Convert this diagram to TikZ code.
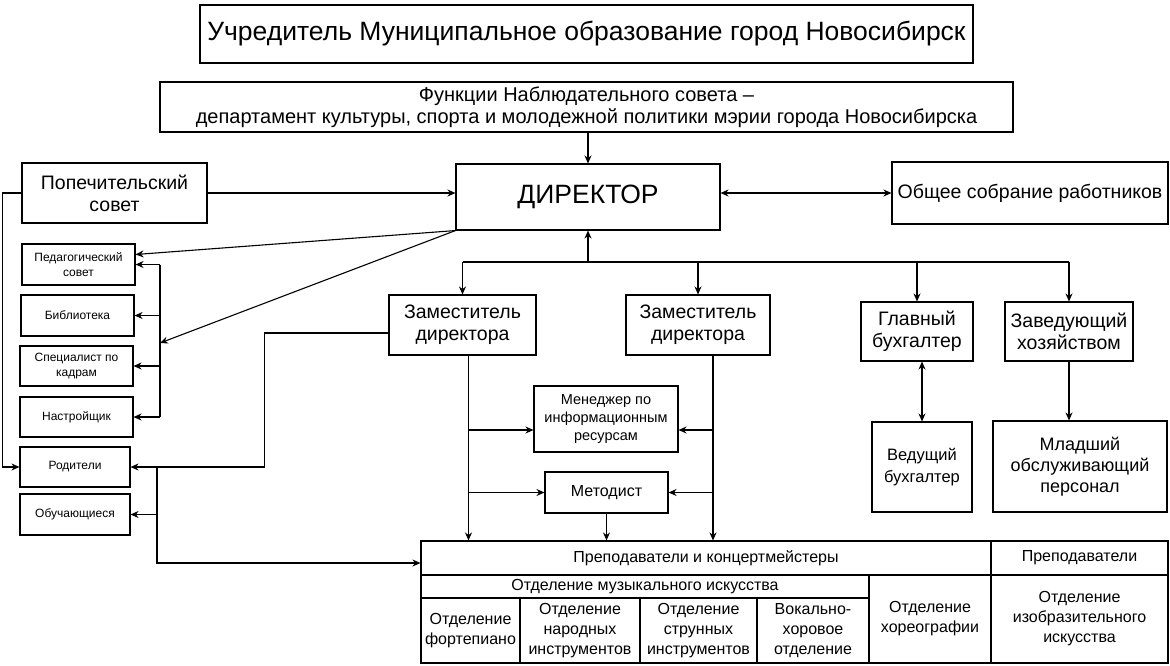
\documentclass[tikz,border=0pt]{standalone}
\usepackage{fontspec}
\setmainfont{Liberation Sans}
\usetikzlibrary{arrows.meta, positioning}

\begin{document}
\begin{tikzpicture}[x=1pt, y=-1pt,
    box/.style = {draw, line width=1.1pt, inner sep=1pt, align=center},
    cell/.style = {draw, line width=1.1pt, inner sep=0.5pt, align=center, font=\fontsize{16}{20}\selectfont},
    arr/.style = {line width=1.1pt, -{Stealth[length=8pt, width=7pt]}},
    darr/.style = {line width=1.1pt, {Stealth[length=8pt, width=7pt]}-{Stealth[length=8pt, width=7pt]}},
    big/.style = {font=\fontsize{19.5}{22}\selectfont},
    small/.style = {font=\fontsize{12}{15}\selectfont}]
    \useasboundingbox (0,0) rectangle (1170,665);
    % top
    \node[box, minimum width=773, minimum height=58, font=\fontsize{26.5}{30}\selectfont] (uchr) at (586.5,34) {Учредитель Муниципальное образование город Новосибирск};
    \node[box, minimum width=853, minimum height=50, font=\fontsize{20}{22}\selectfont] (nabl) at (586.5,107) {Функции Наблюдательного совета –\\департамент культуры, спорта и молодежной политики мэрии города Новосибирска};
    \node[box, minimum width=264, minimum height=66, font=\fontsize{26.5}{30}\selectfont] (dir) at (588,197) {ДИРЕКТОР};
    \node[box, big, minimum width=185, minimum height=60] (popech) at (114.5,193) {Попечительский\\совет};
    \node[box, big, minimum width=276, minimum height=62] (sobr) at (1030,193) {Общее собрание работников};
    % left column
    \node[box, small, minimum width=113, minimum height=41] (ped) at (78.5,264.5) {Педагогический\\совет};
    \node[box, small, minimum width=113, minimum height=41] (bibl) at (77.5,315.5) {Библиотека};
    \node[box, small, minimum width=113, minimum height=40] (kadr) at (76.5,366) {Специалист по\\кадрам};
    \node[box, small, minimum width=113, minimum height=40] (nastr) at (76.5,417) {Настройщик};
    \node[box, small, minimum width=110, minimum height=40] (rodit) at (75,467) {Родители};
    \node[box, small, minimum width=110, minimum height=41] (obuch) at (75,514.5) {Обучающиеся};
    % deputies
    \node[box, big, minimum width=147, minimum height=60] (zam1) at (462.5,325) {Заместитель\\директора};
    \node[box, big, minimum width=144, minimum height=60] (zam2) at (698,325) {Заместитель\\директора};
    \node[box, big, minimum width=112, minimum height=59] (glbuh) at (917,331.5) {Главный\\бухгалтер};
    \node[box, big, minimum width=128, minimum height=59] (zavhoz) at (1069,331.5) {Заведующий\\хозяйством};
    \node[box, minimum width=100, minimum height=90, font=\fontsize{16.5}{22}\selectfont] (vedbuh) at (922,467) {Ведущий\\бухгалтер};
    \node[box, minimum width=174, minimum height=91, font=\fontsize{18}{21}\selectfont] (mladsh) at (1080,466.5) {Младший\\обслуживающий\\персонал};
    \node[box, minimum width=144, minimum height=66, font=\fontsize{14.5}{18}\selectfont] (menedzh) at (606,419) {Менеджер по\\информационным\\ресурсам};
    \node[box, minimum width=123, minimum height=41, font=\fontsize{16}{18}\selectfont] (metod) at (606.5,492.5) {Методист};
    % table
    \node[cell, minimum width=570, minimum height=34] (prep1) at (706,558) {Преподаватели и концертмейстеры};
    \node[cell, minimum width=177, minimum height=34] (prep2) at (1079.5,558) {Преподаватели};
    \node[cell, minimum width=448, minimum height=23] (muz) at (645,586.5) {Отделение музыкального искусства};
    \node[cell, minimum width=99, minimum height=65] (fort) at (470.5,630.5) {Отделение\\фортепиано};
    \node[cell, minimum width=120, minimum height=65] (narod) at (580,630.5) {Отделение\\народных\\инструментов};
    \node[cell, minimum width=117, minimum height=65] (strun) at (698.5,630.5) {Отделение\\струнных\\инструментов};
    \node[cell, minimum width=112, minimum height=65] (vokal) at (813,630.5) {Вокально-\\хоровое\\отделение};
    \node[cell, minimum width=122, minimum height=88] (horeo) at (930,619) {Отделение\\хореографии};
    \node[cell, minimum width=177, minimum height=88] (izo) at (1079.5,619) {Отделение\\изобразительного\\искусства};
    % arrows around the director
    \draw[arr] (dir.north |- nabl.south) -- (dir.north);
    \draw[arr] (popech.east) -- (popech.east -| dir.west);
    \draw[darr] (dir.east |- sobr.west) -- (sobr.west);
    \coordinate (lbus) at (160,343);
    \draw[arr] (dir.south west) -- ([yshift=10pt]ped.east);
    \draw[arr] (dir.south west) -- (lbus);
    \draw[line width=1.1pt] (lbus |- ped.east) -- (lbus |- nastr.east);
    \foreach \n in {ped, bibl, kadr, nastr}
        \draw[arr] (lbus |- \n.east) -- (\n.east);
    % parents and pupils
    \draw[arr] (popech.west) -- ++(-19,0) |- (rodit.west);
    \draw[arr] ([yshift=-8pt]zam1.west) -- ++(-124,0) |- (rodit.east);
    \coordinate (rbus) at (157,467);
    \draw[arr] (rbus |- obuch.east) -- (obuch.east);
    \draw[arr] (rbus) |- ([yshift=-5pt]prep1.west);
    % director bus
    \coordinate (dbus) at (588,262);
    \draw[arr] (dbus) -- (dir.south);
    \draw[line width=1.1pt] (dbus -| zam1.north) -- (dbus -| zavhoz.north);
    \foreach \n in {zam1, zam2, glbuh, zavhoz}
        \draw[arr] (dbus -| \n.north) -- (\n.north);
    \draw[darr] (glbuh.south -| vedbuh.north) -- (vedbuh.north);
    \draw[arr] (zavhoz.south) -- (zavhoz.south |- mladsh.north);
    % deputies to staff
    \coordinate (z1) at ([xshift=6pt]zam1.south);
    \coordinate (z2) at ([xshift=15pt]zam2.south);
    \coordinate (mw) at ([yshift=-11pt]menedzh.west);
    \coordinate (me) at ([yshift=-11pt]menedzh.east);
    \draw[arr] (z1) -- (z1 |- prep1.north);
    \draw[arr] (z2) -- (z2 |- prep1.north);
    \draw[arr] (z1 |- mw) -- (mw);
    \draw[arr] (z2 |- me) -- (me);
    \draw[arr] (z1 |- metod.west) -- (metod.west);
    \draw[arr] (z2 |- metod.east) -- (metod.east);
    \draw[arr] (metod.south) -- (metod.south |- prep1.north);
\end{tikzpicture}
\end{document}
